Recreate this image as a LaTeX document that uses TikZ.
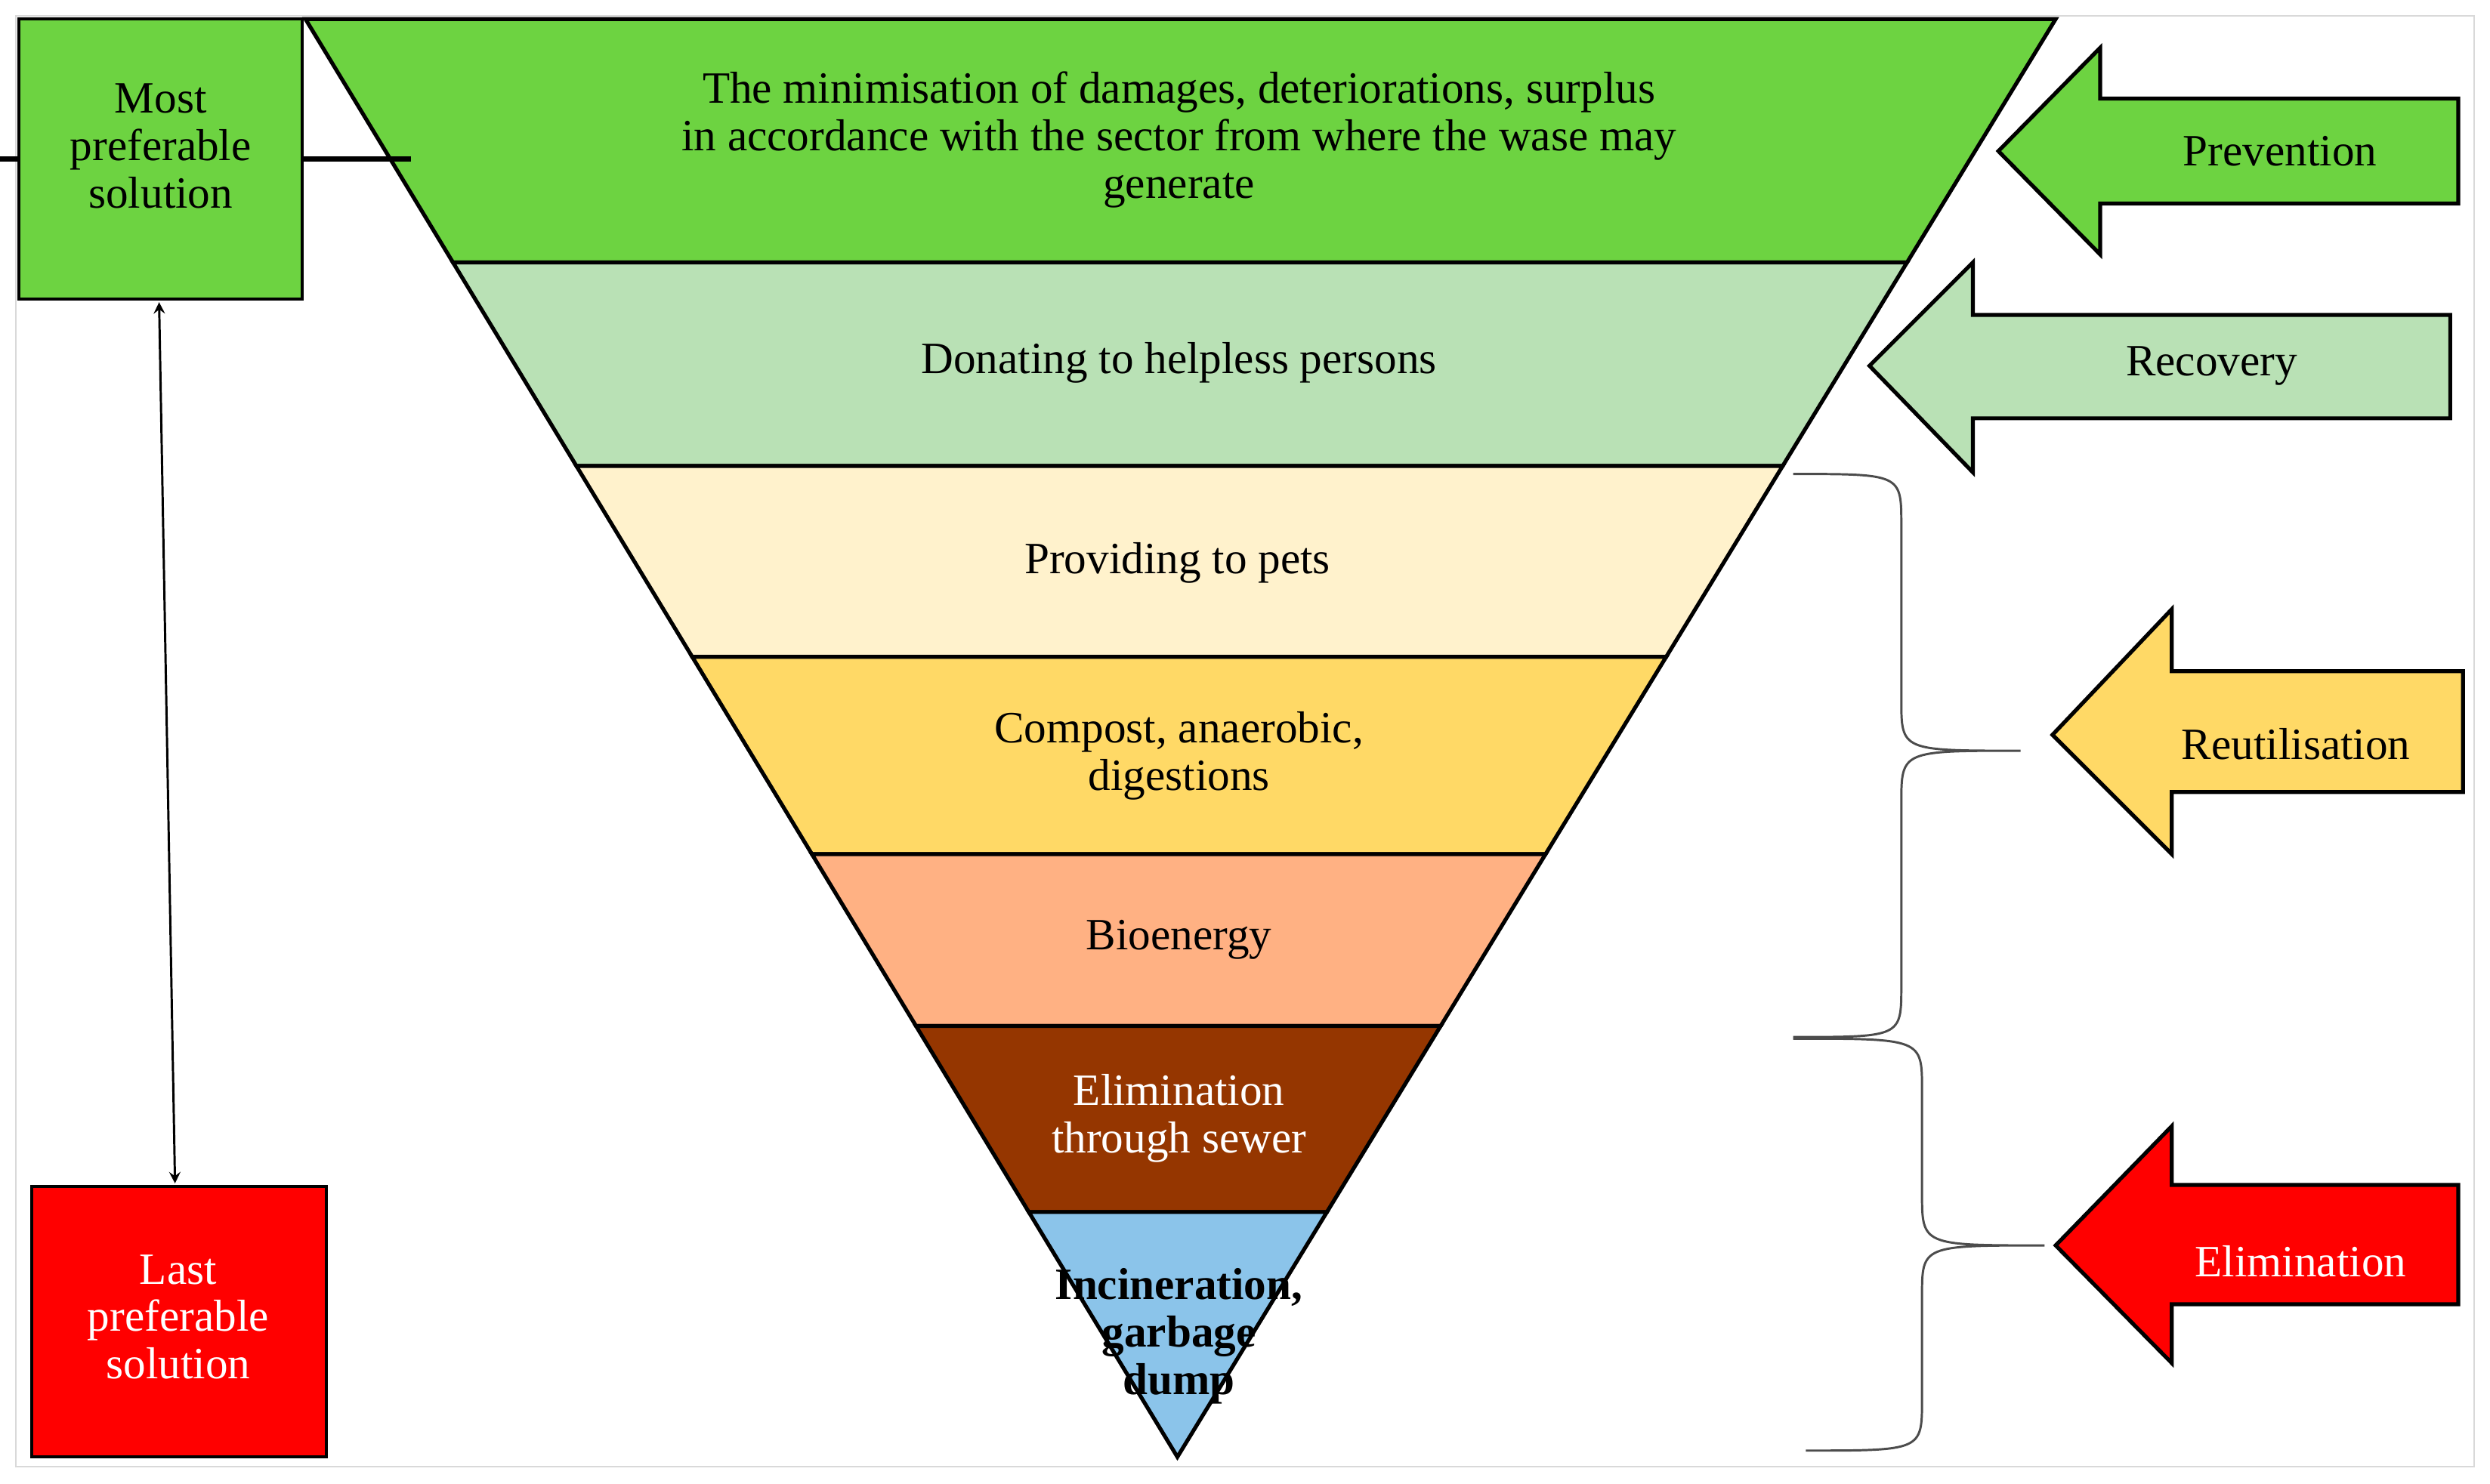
\documentclass[tikz,border=0pt]{standalone}
\usepackage{fontspec}
\setmainfont{Liberation Serif}
\begin{document}
\begin{tikzpicture}[x=0.02cm,y=-0.02cm,
  band/.style={draw=black,line width=1.4pt},
  lbl/.style={font=\fontsize{16}{17}\selectfont,align=center},
  arr/.style={draw=black,line width=1.4pt},
  brc/.style={draw=black!70,line width=0.8pt}]
\useasboundingbox (0,0) rectangle (1565,933);
\draw[black!15,line width=0.6pt] (10,10) rectangle (1555,922);
\definecolor{gA}{HTML}{6DD341}\definecolor{gB}{HTML}{B9E1B5}\definecolor{cr}{HTML}{FFF2CC}
\definecolor{ye}{HTML}{FFD966}\definecolor{or}{HTML}{FFB183}\definecolor{br}{HTML}{953600}
\definecolor{bl}{HTML}{8BC4EA}
\filldraw[band,fill=gA] (192,12) -- (1292,12) -- (1198.6,165) -- (284.7,165) -- cycle;
\filldraw[band,fill=gB] (284.7,165) -- (1198.6,165) -- (1120.4,293) -- (362.3,293) -- cycle;
\filldraw[band,fill=cr] (362.3,293) -- (1120.4,293) -- (1047.2,413) -- (435.1,413) -- cycle;
\filldraw[band,fill=ye] (435.1,413) -- (1047.2,413) -- (971.4,537) -- (510.3,537) -- cycle;
\filldraw[band,fill=or] (510.3,537) -- (971.4,537) -- (905.5,645) -- (575.7,645) -- cycle;
\filldraw[band,fill=br] (575.7,645) -- (905.5,645) -- (834,762) -- (646.6,762) -- cycle;
\filldraw[band,fill=bl] (646.6,762) -- (834,762) -- (740,916) -- cycle;
\node[lbl] (t1) at (741,88) {The minimisation of damages, deteriorations, surplus\\in accordance with the sector from where the wase may\\generate};
\node[lbl] (t2) at (741,228) {Donating to helpless persons};
\node[lbl] (t3) at (740,354) {Providing to pets};
\node[lbl] (t4) at (741,475) {Compost, anaerobic,\\digestions};
\node[lbl] (t5) at (741,591) {Bioenergy};
\node[lbl,text=white] (t6) at (741,703) {Elimination\\through sewer};
\node[lbl,font=\fontsize{16}{17}\selectfont\bfseries] (t7) at (741,840) {Incineration,\\garbage\\dump};
\node[draw=black,fill=gA,line width=1pt,minimum width=178\pgflinewidth,lbl,inner sep=0pt] (most) at (101,100) {};
\draw[line width=1pt,fill=gA] (12,12) rectangle (190,188);
\node[lbl] (mostt) at (101,92) {Most\\preferable\\solution};
\draw[line width=1pt,fill=red] (20,746) rectangle (205,916);
\node[lbl,text=white] (last) at (112,828) {Last\\preferable\\solution};
\coordinate (a1) at (100,190); \coordinate (a2) at (110,744);
\draw[<->,>=stealth,line width=0.8pt] (a1) -- (a2);
\filldraw[arr,fill=gA] (1256,95) -- (1320,30) -- (1320,62) -- (1545,62) -- (1545,128) -- (1320,128) -- (1320,160) -- cycle;
\node[lbl] (prev) at (1433,95) {Prevention};
\filldraw[arr,fill=gB] (1175,230) -- (1240,165) -- (1240,198) -- (1540,198) -- (1540,263) -- (1240,263) -- (1240,297) -- cycle;
\node[lbl] (rec) at (1390,230) {Recovery};
\filldraw[arr,fill=ye] (1290,462) -- (1365,383) -- (1365,422) -- (1548,422) -- (1548,498) -- (1365,498) -- (1365,537) -- cycle;
\node[lbl] (reu) at (1443,468) {Reutilisation};
\filldraw[arr,fill=red] (1292,783) -- (1365,708) -- (1365,745) -- (1545,745) -- (1545,820) -- (1365,820) -- (1365,857) -- cycle;
\node[lbl,text=white] (eli) at (1446,793) {Elimination};
\draw[brc] (1127,298) .. controls (1195,298) .. (1195,330) -- (1195,440) .. controls (1195,472) .. (1270,472)
  .. controls (1195,472) .. (1195,505) -- (1195,620) .. controls (1195,652) .. (1127,652);
\draw[brc] (1127,653) .. controls (1208,653) .. (1208,685) -- (1208,750) .. controls (1208,783) .. (1285,783)
  .. controls (1208,783) .. (1208,815) -- (1208,880) .. controls (1208,912) .. (1135,912);
\end{tikzpicture}
\end{document}
